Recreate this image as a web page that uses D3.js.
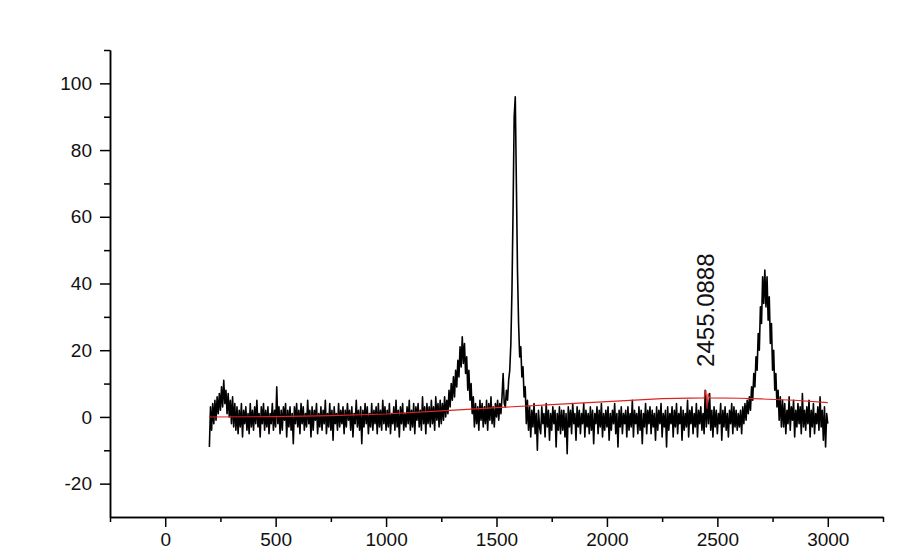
<!DOCTYPE html>
<html>
<head>
<meta charset="utf-8">
<script src="https://cdn.jsdelivr.net/npm/d3@7/dist/d3.min.js"></script>
<style>
    body { margin: 0; background: #fff; }
    svg { display: block; }
    .axis path, .axis line { stroke: #000; stroke-width: 1.5; }
    .axis text { font-family: "Liberation Sans", Arial, sans-serif; font-size: 19px; fill: #111; }
    .line-spectrum { fill: none; stroke: #000; stroke-width: 1.6; stroke-linejoin: round; }
    .line-baseline { fill: none; stroke: #dd2222; stroke-width: 1.1; }
    .peak-label { font-family: "Liberation Sans", Arial, sans-serif; font-size: 24px; fill: #111; }
</style>
</head>
<body>
<div id="chart"></div>
<script>

// raman shift grid: 200 .. 3000 cm-1, every 5
var shiftStart = 200
    , shiftStep = 5;

// intensity, one array per 400 cm-1
var intensity200 = [
    -9, 3, -4, 4, -2, 5, -1, 6, 1, 7, 2, 9, 3, 11, 4, 8, 1, 7, 0, 5,
    -2, 6, -3, 4, -4, 3, -5, 2, -3, 4, -6, 2, -2, 3, -4, 1, -5, 4, -3, 2,
    -4, 3, -2, 5, -3, 1, -6, 3, -2, 4, -4, 2, -3, 3, -5, 1, -2, 4, -4, 2,
    -3, 9, -2, 3, -5, 2, -4, 3, -1, 4, -6, 2, -3, 3, -4, 1, -8, 3, -2, 4
];
var intensity600 = [
    -3, 2, -5, 4, -2, 3, -4, 1, -3, 5, -2, 2, -6, 3, -4, 2, -1, 4, -5, 1,
    -3, 3, -4, 2, -2, 5, -5, 1, -3, 4, -4, 2, -7, 3, -2, 1, -4, 4, -3, 2,
    -2, 3, -5, 2, -3, 4, -1, 2, -4, 3, -6, 1, -2, 5, -3, 2, -4, 3, -8, 2,
    -3, 4, -2, 3, -5, 1, -3, 4, -4, 2, -2, 3, -5, 4, -3, 2, -4, 5, -2, 3
];
var intensity1000 = [
    -4, 2, -3, 4, -5, 1, -2, 3, -4, 5, -3, 2, -6, 3, -2, 4, -4, 1, -3, 3,
    -2, 5, -4, 2, -3, 4, -5, 3, -1, 4, -3, 2, -4, 6, -2, 3, -5, 4, -2, 3,
    -3, 5, -2, 3, -4, 6, -1, 4, -3, 5, -2, 4, -1, 6, 0, 5, 1, 8, 3, 10,
    5, 12, 6, 14, 9, 17, 12, 21, 15, 24, 16, 22, 13, 18, 8, 14, 5, 10, 1, 6
];
var intensity1400 = [
    -3, 4, -2, 3, -4, 5, -1, 4, -3, 3, -2, 5, -4, 4, -1, 6, -2, 3, -3, 4,
    0, 5, -1, 4, 1, 6, 13, 4, 3, 8, 5, 11, 14, 22, 38, 62, 90, 96, 70, 44,
    28, 18, 21, 12, 15, 6, 9, -2, 5, -4, 3, -6, 2, -3, 4, -5, 1, -10, 2, -3,
    -5, 3, -2, 1, -6, 4, -3, 2, -7, 1, -4, 3, -2, 2, -9, 1, -4, 3, -5, 2
];
var intensity1800 = [
    -4, 2, -6, 1, -11, 3, -3, 2, -5, 4, -2, 1, -7, 3, -3, 2, -5, 1, -2, 4,
    -6, 2, -3, 1, -5, 3, -4, 2, -8, 1, -2, 3, -5, 2, -3, 4, -6, 1, -4, 2,
    -3, 3, -7, 1, -4, 2, -2, 4, -5, 1, -9, 2, -3, 3, -5, 1, -2, 2, -6, 3,
    -4, 1, -3, 5, -6, 2, -2, 1, -5, 3, -4, 2, -8, 1, -3, 4, -5, 2, -2, 3
];
var intensity2200 = [
    -5, 2, -3, 1, -7, 3, -4, 2, -2, 4, -6, 1, -3, 2, -9, 3, -4, 1, -2, 3,
    -6, 2, -3, 4, -5, 1, -2, 3, -7, 2, -4, 1, -3, 5, -6, 2, -2, 3, -5, 1,
    -3, 4, -6, 2, -2, 3, -4, 1, -5, 8, -3, 5, -2, 7, -4, 2, -6, 3, -3, 2,
    -5, 1, -2, 4, -7, 2, -3, 3, -4, 1, -6, 2, -2, 4, -5, 3, -3, 2, -4, 1
];
var intensity2600 = [
    -3, 2, -5, 3, -2, 4, -1, 5, 1, 6, 2, 9, 5, 13, 9, 18, 14, 25, 20, 33,
    28, 42, 34, 44, 33, 42, 29, 36, 22, 28, 14, 20, 8, 13, 3, 8, -1, 6, -3, 5,
    -3, 4, -5, 2, -2, 6, -4, 3, -1, 5, -6, 2, -3, 4, -2, 3, -5, 7, -3, 2,
    -4, 3, -2, 5, -6, 2, -3, 4, -5, 1, -2, 3, -4, 6, -3, 2, -7, 3, -9, 1,
    -2
];

// red fitted baseline
var baselineShift = [200, 500, 750, 1000, 1250, 1500, 1750, 2000, 2250, 2440, 2448, 2453, 2458, 2465, 2600, 2700, 2850, 3000];
var baselineIntensity = [0, 0.1, 0.4, 0.9, 1.8, 2.8, 3.7, 4.6, 5.5, 5.7, 8, 2.5, 7, 5.7, 5.6, 5.4, 5.0, 4.3];

var xMajorTicks = [0, 500, 1000, 1500, 2000, 2500, 3000]
    , xMinorTicks = [-250, 250, 750, 1250, 1750, 2250, 2750, 3250]
    , yMajorTicks = [-20, 0, 20, 40, 60, 80, 100]
    , yMinorTicks = [-10, 10, 30, 50, 70, 90, 110];

var peakLabel = "2455.0888"
    , peakLabelShift = 2455.0888
    , peakLabelIntensity = 15;


function chart() {

    var width = 900
        , height = 555
        , margin = {left: 110, right: 17, top: 50, bottom: 38};

    function my(selection) {
        selection.each(function() {

            var svg = d3.select(this)
                .append("svg")
                .attr("width", width)
                .attr("height", height);

            svg.append("rect")
                .attr("width", width)
                .attr("height", height)
                .attr("fill", "#fff");

            var w = width - margin.left - margin.right
                , h = height - margin.top - margin.bottom
                , g = svg.append("g")
                    .attr("transform", "translate(" + margin.left + "," + margin.top + ")");

            var intensity = [].concat(intensity200, intensity600, intensity1000,
                intensity1400, intensity1800, intensity2200, intensity2600);

            var spectrum = intensity.map(function(v, i) {
                return {shift: shiftStart + i * shiftStep, value: v};
            });

            var baseline = baselineShift.map(function(s, i) {
                return {shift: s, value: baselineIntensity[i]};
            });

            var x = d3.scaleLinear()
                .domain([-250, 3250])
                .range([0, w]);

            var y = d3.scaleLinear()
                .domain([-30, 110])
                .range([h, 0]);

            var line = d3.line()
                .x(function(d) { return x(d.shift)})
                .y(function(d) { return y(d.value)});

            // plain hyphen for negatives, like the original plot
            var fmt = function(d) { return String(d); };

            // minor ticks first, majors with labels on top
            g.append("g")
                .attr("class", "axis axis--x-minor")
                .attr("transform", "translate(0," + h + ")")
                .call(d3.axisBottom(x)
                    .tickValues(xMinorTicks)
                    .tickSizeOuter(0)
                    .tickSizeInner(5)
                    .tickFormat(""));

            g.append("g")
                .attr("class", "axis axis--x")
                .attr("transform", "translate(0," + h + ")")
                .call(d3.axisBottom(x)
                    .tickValues(xMajorTicks)
                    .tickSizeOuter(0)
                    .tickSizeInner(10)
                    .tickPadding(6)
                    .tickFormat(fmt));

            g.append("g")
                .attr("class", "axis axis--y-minor")
                .call(d3.axisLeft(y)
                    .tickValues(yMinorTicks)
                    .tickSizeOuter(0)
                    .tickSizeInner(6)
                    .tickFormat(""));

            g.append("g")
                .attr("class", "axis axis--y")
                .call(d3.axisLeft(y)
                    .tickValues(yMajorTicks)
                    .tickSizeOuter(0)
                    .tickSizeInner(10)
                    .tickPadding(8)
                    .tickFormat(fmt));

            g.append("path")
                .datum(spectrum)
                .attr("class", "line line-spectrum")
                .attr("d", line);

            g.append("path")
                .datum(baseline)
                .attr("class", "line line-baseline")
                .attr("d", line);

            g.append("text")
                .attr("class", "peak-label")
                .attr("transform", "translate(" + (x(peakLabelShift) + 7) + "," + y(peakLabelIntensity) + ") rotate(-90)")
                .attr("text-anchor", "start")
                .text(peakLabel);
        });
    }

    return my;
}

d3.select("#chart").call(chart());

</script>
</body>
</html>
